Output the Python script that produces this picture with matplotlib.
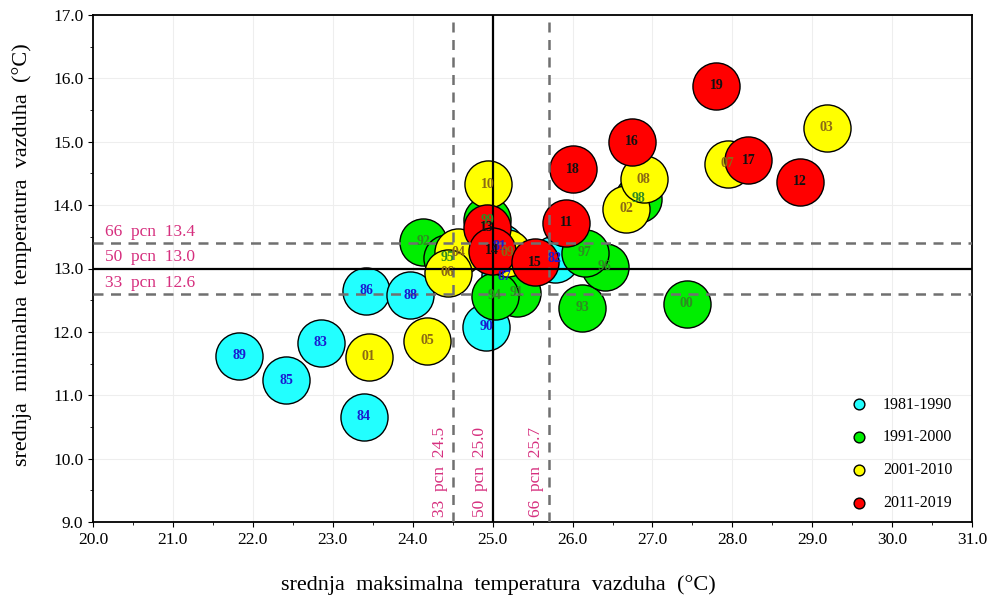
import matplotlib.pyplot as plt
from matplotlib.ticker import MultipleLocator

plt.rcParams['font.family'] = ['Liberation Serif', 'DejaVu Serif']

# decade groups: labels, x = mean max temp, y = mean min temp
lab_80 = ["81", "82", "83", "84", "85", "86", "87", "88", "89", "90"]
x_80 = [25.09, 25.78, 22.85, 23.39, 22.42, 23.42, 25.15, 23.97, 21.83, 24.92]
y_80 = [13.34, 13.15, 11.83, 10.66, 11.24, 12.65, 12.88, 12.58, 11.62, 12.08]

lab_90 = ["91", "92", "93", "94", "95", "96", "97", "98", "99", "00"]
x_90 = [25.30, 24.13, 26.12, 25.03, 24.43, 26.40, 26.15, 26.82, 24.93, 27.43]
y_90 = [12.62, 13.42, 12.38, 12.57, 13.17, 13.03, 13.25, 14.10, 13.76, 12.44]

lab_00 = ["01", "02", "03", "04", "05", "06", "07", "08", "09", "10"]
x_00 = [23.45, 26.67, 29.18, 24.57, 24.18, 24.44, 27.94, 26.89, 25.18, 24.94]
y_00 = [11.61, 13.94, 15.22, 13.26, 11.86, 12.93, 14.65, 14.41, 13.25, 14.33]

lab_10 = ["11", "12", "13", "14", "15", "16", "17", "18", "19"]
x_10 = [25.92, 28.84, 24.93, 24.99, 25.53, 26.74, 28.20, 26.00, 27.80]
y_10 = [13.72, 14.37, 13.64, 13.28, 13.10, 15.00, 14.71, 14.57, 15.88]

groups = [
    ("1981-1990", lab_80, x_80, y_80, "#22ffff", "#1a1ad0"),
    ("1991-2000", lab_90, x_90, y_90, "#00ee00", "#2e8b22"),
    ("2001-2010", lab_00, x_00, y_00, "#ffff00", "#8b6a14"),
    ("2011-2019", lab_10, x_10, y_10, "#ff0000", "#111111"),
]

pct_x = {"33": 24.5, "50": 25.0, "66": 25.7}
pct_y = {"33": 12.6, "50": 13.0, "66": 13.4}

fig = plt.figure(figsize=(9.89, 6.0), dpi=100)
ax = fig.add_axes([0.094, 0.13, 0.889, 0.845])

for name, labs, xs, ys, fc, tc in groups:
    ax.scatter(xs, ys, s=1150, c=fc, edgecolors="black", linewidths=1.0, zorder=3)
    ax.scatter([], [], s=60, c=fc, edgecolors="black", linewidths=1.0, label=name)

for name, labs, xs, ys, fc, tc in groups:
    for lb, xv, yv in zip(labs, xs, ys):
        ax.text(xv, yv, lb, ha="center", va="center", fontsize=10,
                fontweight="bold", color=tc, zorder=5)

pink = "#d62f7e"
for k, v in pct_x.items():
    if k == "50":
        ax.axvline(v, color="black", lw=1.6, zorder=4)
    else:
        ax.axvline(v, color="#707070", lw=1.8, ls=(0, (4, 3)), zorder=4)
    ax.text(v - 0.06, 9.08, f"{k}  pcn  {v:.1f}", rotation=90, ha="right",
            va="bottom", color=pink, fontsize=12.5, zorder=6)
for k, v in pct_y.items():
    if k == "50":
        ax.axhline(v, color="black", lw=1.6, zorder=4)
    else:
        ax.axhline(v, color="#707070", lw=1.8, ls=(0, (4, 3)), zorder=4)
    ax.text(20.15, v + 0.05, f"{k}  pcn  {v:.1f}", ha="left", va="bottom",
            color=pink, fontsize=12.5, zorder=6)

ax.set_xlim(20, 31)
ax.set_ylim(9, 17)
ax.xaxis.set_major_locator(MultipleLocator(1.0))
ax.yaxis.set_major_locator(MultipleLocator(1.0))
ax.xaxis.set_minor_locator(MultipleLocator(0.5))
ax.yaxis.set_minor_locator(MultipleLocator(0.5))
ax.xaxis.set_major_formatter(lambda v, p: f"{v:.1f}")
ax.yaxis.set_major_formatter(lambda v, p: f"{v:.1f}")
ax.tick_params(labelsize=12.5, direction="out")
ax.grid(True, color="#eeeeee", lw=0.8, zorder=0)
for sp in ax.spines.values():
    sp.set_linewidth(1.3)

ax.set_xlabel("srednja  maksimalna  temperatura  vazduha  (°C)", fontsize=16)
ax.set_ylabel("srednja  minimalna  temperatura  vazduha  (°C)", fontsize=16)
ax.xaxis.set_label_coords(0.461, -0.105)
ax.yaxis.set_label_coords(-0.069, 0.527)

ax.legend(loc="lower right", frameon=False, fontsize=11.5, labelspacing=1.05,
          handletextpad=0.5, borderaxespad=0.3, bbox_to_anchor=(0.99, 0.0))

fig.savefig("out.png", dpi=100)
